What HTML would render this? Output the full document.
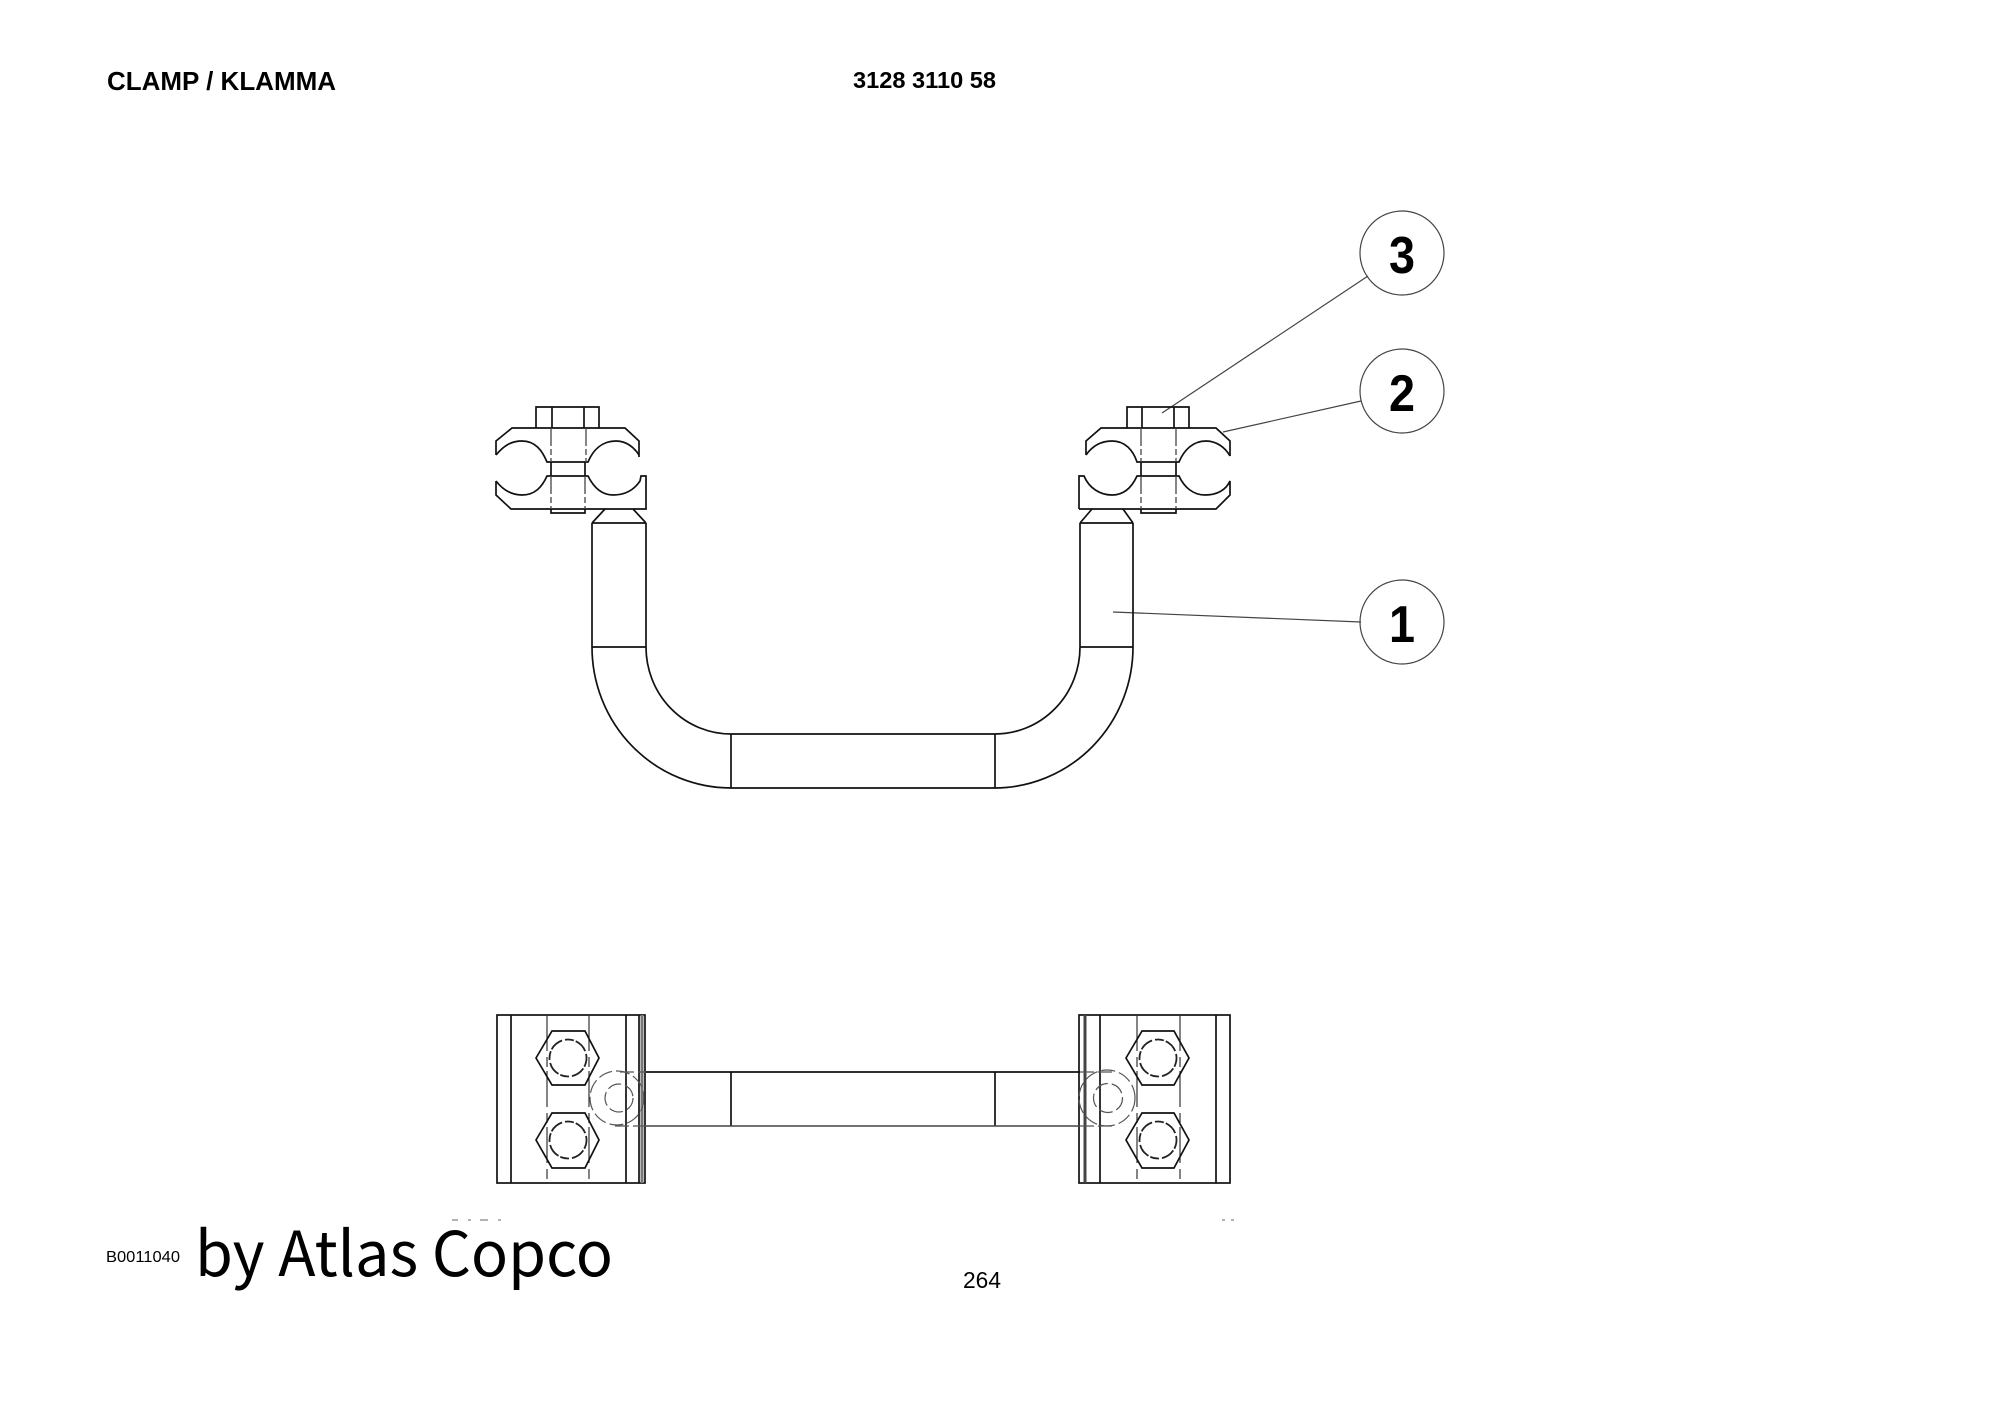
<!DOCTYPE html>
<html>
<head>
<meta charset="utf-8">
<style>
html,body{margin:0;padding:0;background:#fff;}
svg{display:block;}
.l{fill:none;stroke:#111;stroke-width:1.7;}
.d{fill:none;stroke:#444;stroke-width:1.3;stroke-dasharray:18 3 6 3;}
.c{fill:none;stroke:#555;stroke-width:1.2;stroke-dasharray:14 4;}
.k{fill:none;stroke:#222;stroke-width:1.8;stroke-dasharray:9 2 14 3;}
.n{fill:none;stroke:#444;stroke-width:1.2;}
text{font-family:"Liberation Sans",sans-serif;fill:#000;}
</style>
</head>
<body>
<svg width="2000" height="1414" viewBox="0 0 2000 1414" xmlns="http://www.w3.org/2000/svg">
<rect width="2000" height="1414" fill="#fff"/>
<text x="107" y="90" font-size="26" font-weight="bold" textLength="229" lengthAdjust="spacingAndGlyphs">CLAMP / KLAMMA</text>
<text x="853" y="88" font-size="23" font-weight="bold" textLength="143" lengthAdjust="spacingAndGlyphs">3128 3110 58</text>
<text x="106" y="1262" font-size="16" textLength="74" lengthAdjust="spacingAndGlyphs">B0011040</text>
<text x="963" y="1288" font-size="23" textLength="38" lengthAdjust="spacingAndGlyphs">264</text>
<text x="195" y="1276" font-size="62" textLength="418" lengthAdjust="spacingAndGlyphs" style='font-family:"Noto Sans CJK SC","Liberation Sans",sans-serif'>by Atlas Copco</text>

<!-- balloons -->
<circle class="n" cx="1402" cy="253" r="42"/>
<circle class="n" cx="1402" cy="391" r="42"/>
<circle class="n" cx="1402" cy="622" r="42"/>
<text x="1389" y="273" font-size="52" font-weight="bold" textLength="26" lengthAdjust="spacingAndGlyphs">3</text>
<text x="1389" y="411" font-size="52" font-weight="bold" textLength="26" lengthAdjust="spacingAndGlyphs">2</text>
<text x="1389" y="642" font-size="52" font-weight="bold" textLength="26" lengthAdjust="spacingAndGlyphs">1</text>
<path class="n" d="M1162 413 L1368 276 M1223 432 L1361 401 M1113 612 L1361 622"/>

<!-- left clamp -->
<g>
<path class="l" d="M536 428 V407 H599 V428 M552 407 V428 M584 407 V428"/>
<path class="l" d="M496 455 V441 L512 428 H625 L639 441 V457"/>
<path class="l" d="M496 455 C505 444 513 441 522 441 C535 441 542 450 547 462 H588 C593 450 602 441 616 441 C626 441 634 447 639 455"/>
<path class="l" d="M496 481 C503 490 512 495 522 495 C535 495 542 487 547 476 H588 C594 488 602 495 613 495 C625 495 634 490 640 481 L641 476 H646 V509 H511 L496 495 V481"/>
<path class="l" d="M551 462 V476 M551 509 V513 H585 V509 M585 462 V476"/>
<path class="d" d="M551 428 V462 M586 428 V462 M551 476 V509 M585 476 V509"/>
<path class="l" d="M605 509 L592 523 M633 509 L646 523"/>
</g>

<!-- right clamp -->
<g>
<path class="l" d="M1127 428 V407 H1189 V428 M1142 407 V428 M1174 407 V428"/>
<path class="l" d="M1086 455 V441 L1101 428 H1216 L1230 441 V456"/>
<path class="l" d="M1086 455 C1093 445 1102 441 1112 441 C1125 441 1133 450 1137 462 H1179 C1184 450 1193 441 1206 441 C1216 441 1225 447 1230 456"/>
<path class="l" d="M1079 509 V476 H1084 C1089 488 1100 495 1112 495 C1124 495 1132 487 1137 476 H1179 C1184 487 1193 495 1205 495 C1217 495 1226 490 1230 481 V495 L1216 509 H1079"/>
<path class="l" d="M1141 462 V476 M1176 462 V476 M1141 509 V513 H1176 V509"/>
<path class="d" d="M1141 428 V462 M1176 428 V462 M1141 476 V509 M1176 476 V509"/>
<path class="l" d="M1092 509 L1080 523 M1123 509 L1133 523"/>
</g>

<!-- tube front view -->
<path class="l" d="M592 523 H646 M1080 523 H1133"/>
<path class="l" d="M592 523 V647 A139 141 0 0 0 731 788 H995 A139 141 0 0 0 1133 647 V523"/>
<path class="l" d="M646 523 V647 A85 87 0 0 0 731 734 H995 A85 87 0 0 0 1080 647 V523"/>
<path class="l" d="M592 647 H646 M1080 647 H1133 M731 734 V788 M995 734 V788"/>

<!-- bottom view left block -->
<rect class="l" x="497" y="1015" width="148" height="168"/>
<path class="l" d="M511 1015 V1183 M626 1015 V1183 M639 1015 V1183"/>
<path d="M642 1015 V1183" fill="none" stroke="#777" stroke-width="3"/>
<path class="c" d="M547 1015 V1183 M589 1015 V1183" style="stroke:#333;stroke-dasharray:36 6 10 4"/>
<polygon class="l" points="536,1058 552,1031 585,1031 599,1058 585,1085 552,1085"/>
<polygon class="l" points="536,1140 552,1113 585,1113 599,1140 585,1168 552,1168"/>
<circle class="k" cx="568" cy="1058" r="18.5"/>
<circle class="k" cx="568" cy="1140" r="18.5"/>
<circle class="c" cx="617" cy="1098" r="27"/>
<circle class="c" cx="619" cy="1098" r="14"/>

<!-- bottom view right block -->
<rect class="l" x="1079" y="1015" width="151" height="168"/>
<path class="l" d="M1100 1015 V1183 M1216 1015 V1183"/>
<path d="M1085 1015 V1183" fill="none" stroke="#444" stroke-width="3"/>
<path class="c" d="M1137 1015 V1183 M1180 1015 V1183" style="stroke:#333;stroke-dasharray:36 6 10 4"/>
<polygon class="l" points="1126,1058 1142,1031 1174,1031 1189,1058 1174,1085 1142,1085"/>
<polygon class="l" points="1126,1140 1142,1113 1174,1113 1189,1140 1174,1168 1142,1168"/>
<circle class="k" cx="1158" cy="1058" r="18.5"/>
<circle class="k" cx="1158" cy="1140" r="18.5"/>
<circle class="c" cx="1107" cy="1098" r="28"/>
<circle class="c" cx="1108" cy="1098" r="14.5"/>

<!-- bottom view tube -->
<path class="l" d="M646 1072 H1080 M731 1072 V1126 M995 1072 V1126"/>
<path d="M646 1126 H1080" fill="none" stroke="#444" stroke-width="1.4"/>
<path class="c" d="M620 1072 H646 M615 1126 H646 M1080 1072 H1115 M1080 1126 H1115"/>

<!-- specks -->
<path d="M452 1220 H458 M468 1220 H471 M480 1220 H488 M498 1220 H501 M1222 1220 H1225 M1231 1220 H1234" fill="none" stroke="#999" stroke-width="1.5"/>
</svg>
</body>
</html>
